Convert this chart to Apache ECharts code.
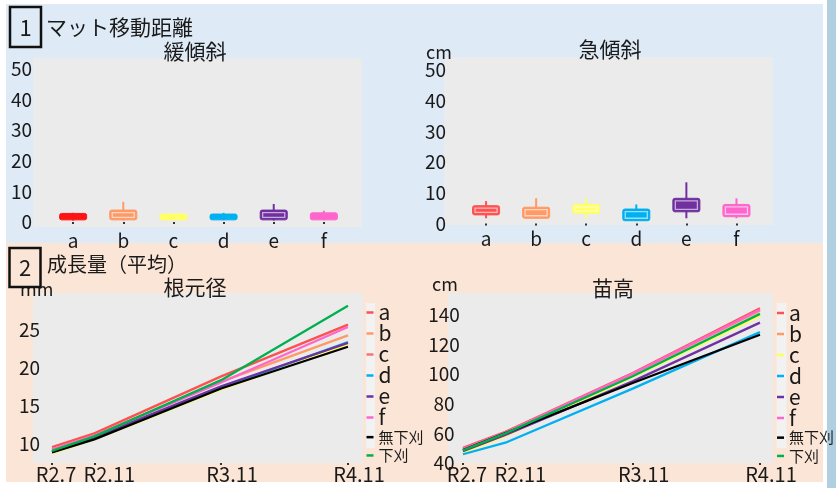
<!DOCTYPE html>
<html><head><meta charset="utf-8">
<script src="https://cdn.jsdelivr.net/npm/echarts@6/dist/echarts.min.js"></script>
<style>html,body{margin:0;padding:0;background:#fff}#c{width:836px;height:488px}</style>
</head><body><div id="c"></div>
<script>
// ---- data ----
const plots = ['a', 'b', 'c', 'd', 'e', 'f'];
const groups = ['a', 'b', 'c', 'd', 'e', 'f', '無下刈', '下刈'];
// mat movement distance (cm), per plot: [low, q1, q3, high]
const gentleBoxes = [
  [0.5, 0.7, 2.8, 3.0],
  [0.5, 0.7, 3.9, 6.6],
  [0.6, 0.7, 2.6, 2.6],
  [0.6, 0.7, 2.6, 3.0],
  [0.5, 0.7, 3.9, 5.9],
  [0.6, 0.7, 3.0, 3.7]
];
const steepBoxes = [
  [1.7, 2.8, 5.8, 7.3],
  [1.7, 1.7, 5.3, 8.2],
  [1.7, 3.3, 6.2, 8.2],
  [0.9, 0.9, 4.7, 6.2],
  [1.7, 3.8, 8.2, 13.4],
  [1.7, 2.2, 6.2, 8.2]
];
const boxTicks = [0, 10, 20, 30, 40, 50];
// survey dates as months since R2.7
const surveyMonths = [0, 4, 16, 28];
const surveyLabels = ['R2.7', 'R2.11', 'R3.11', 'R4.11'];
// mean root collar diameter (mm), rows follow `groups`
const diameterMm = [
  [9.6, 11.4, 18.9, 25.7],
  [9.3, 11.1, 18.2, 24.3],
  [8.8, 10.6, 17.2, 23.0],
  [9.0, 10.9, 17.4, 23.4],
  [9.0, 10.9, 17.6, 23.3],
  [9.3, 11.1, 18.1, 25.4],
  [8.9, 10.6, 17.3, 22.8],
  [9.1, 11.0, 18.4, 28.2]
];
const diameterTicks = [10, 15, 20, 25];
// mean seedling height (cm), rows follow `groups`
const heightCm = [
  [50.3, 61.1, 100.7, 144.4],
  [49.0, 60.0, 100.0, 142.8],
  [47.0, 58.2, 98.0, 139.2],
  [45.9, 53.7, 90.2, 128.3],
  [48.0, 59.0, 95.1, 134.7],
  [49.5, 60.5, 100.3, 143.5],
  [48.7, 60.2, 94.0, 126.5],
  [48.5, 60.0, 98.5, 140.6]
];
const heightTicks = [40, 60, 80, 100, 120, 140];

// ---- styling ----
const FONT = '"Noto Sans CJK JP", "Noto Sans", sans-serif';
const INK = '#1a1a1a';
const gentleColors = ['#ff1414', '#ff9966', '#ffff66', '#00b0f0', '#7030a0', '#ff66cc'];
const steepColors = ['#ff5252', '#ff9966', '#ffff66', '#00b0f0', '#7030a0', '#ff66cc'];
const lineColors = ['#ff5050', '#ff9966', '#ffff55', '#00b0f0', '#7030a0', '#ff66cc', '#000000', '#00b050'];
const diamKeyColors = ['#ff5050', '#ff9966', '#ff7070', '#00b0f0', '#7030a0', '#ff66cc', '#000000', '#00b050'];
const heightKeyColors = ['#ff5050', '#ff9966', '#ffff55', '#00b0f0', '#7030a0', '#ff66cc', '#000000', '#00b050'];
const BOX_W = 0.54;
// left padding of each date label (shifts the text right of its tick)
const dateLabelPad = [8, 30, 22, 22];

const chart = echarts.init(document.getElementById('c'), null, { renderer: 'canvas' });

function boxSeries(idx, boxes, colors) {
  return {
    type: 'custom', xAxisIndex: idx, yAxisIndex: idx, silent: true, z: 5,
    data: boxes.map((b, i) => [i + 1].concat(b)),
    encode: { x: 0, y: [1, 2, 3, 4] },
    renderItem: (params, api) => {
      const x = api.value(0);
      const lo = api.coord([x, api.value(1)]);
      const q1 = api.coord([x, api.value(2)]);
      const q3 = api.coord([x, api.value(3)]);
      const hi = api.coord([x, api.value(4)]);
      const half = api.size([BOX_W, 0])[0] / 2;
      const col = colors[params.dataIndex];
      const h = Math.max(q1[1] - q3[1], 4);
      const kids = [
        { type: 'line', shape: { x1: lo[0], y1: lo[1], x2: hi[0], y2: hi[1] }, style: { stroke: col, lineWidth: 2 } },
        { type: 'rect', shape: { x: q1[0] - half, y: q1[1] - h, width: half * 2, height: h, r: 2 },
          style: { fill: col, stroke: col, lineWidth: 1 } }
      ];
      if (h > 8) {
        kids.push({ type: 'rect', shape: { x: q1[0] - half + 2.5, y: q1[1] - h + 2.5, width: half * 2 - 5, height: h - 5 },
          style: { fill: 'none', stroke: 'rgba(255,255,255,0.6)', lineWidth: 1.3 } });
      }
      return { type: 'group', children: kids };
    }
  };
}

function lineSeries(idx, rows) {
  return rows.map((row, i) => ({
    type: 'line', name: groups[i], xAxisIndex: idx, yAxisIndex: idx, silent: true,
    symbol: 'none', z: 5,
    data: surveyMonths.map((m, j) => [m, row[j]]),
    lineStyle: { width: 2.3, color: lineColors[i] },
    itemStyle: { color: lineColors[i] }
  }));
}

const gridBase = { show: true, backgroundColor: '#ebebeb', borderWidth: 0, containLabel: false };
const boxX = (gridIndex, min, max) => ({
  type: 'value', gridIndex, min, max,
  axisLine: { show: false }, splitLine: { show: false },
  axisTick: { show: true, length: 2, customValues: [1, 2, 3, 4, 5, 6], lineStyle: { color: '#333', width: 2 } },
  axisLabel: { customValues: [1, 2, 3, 4, 5, 6], formatter: v => plots[Math.round(v) - 1] || '',
    fontFamily: FONT, fontSize: 19, color: INK, margin: 4 }
});
const boxY = (gridIndex, min, max, margin) => ({
  type: 'value', gridIndex, min, max,
  axisLine: { show: false }, splitLine: { show: false }, axisTick: { show: false },
  axisLabel: { customValues: boxTicks, fontFamily: FONT, fontSize: 19, color: INK, margin }
});
const dateRich = {};
dateLabelPad.forEach((p, i) => {
  dateRich['d' + i] = { fontFamily: FONT, fontSize: 20, color: INK, padding: [0, 0, 0, p] };
});
const timeX = (gridIndex, min, max) => ({
  type: 'value', gridIndex, min, max,
  axisLine: { show: false }, splitLine: { show: false },
  axisTick: { show: true, length: 2, customValues: surveyMonths, lineStyle: { color: '#333', width: 2 } },
  axisLabel: {
    customValues: surveyMonths, fontFamily: FONT, fontSize: 20, color: INK, margin: 1,
    formatter: v => {
      const i = surveyMonths.indexOf(Math.round(v));
      return '{d' + i + '|' + surveyLabels[i] + '}';
    },
    rich: dateRich
  }
});
const lineY = (gridIndex, min, max, ticks, margin, align) => ({
  type: 'value', gridIndex, min, max,
  axisLine: { show: false }, splitLine: { show: false }, axisTick: { show: false },
  axisLabel: { customValues: ticks, fontFamily: FONT, fontSize: 19, color: INK, margin, align }
});

const keyRich = {
  l: { fontFamily: FONT, fontSize: 21, lineHeight: 18.3, color: INK },
  k: { fontFamily: FONT, fontSize: 15, lineHeight: 18.3, color: INK }
};
const legend = (left, top, colors) => ({
  orient: 'vertical', left, top, icon: 'rect', itemWidth: 7, itemHeight: 2.5, itemGap: 0,
  selectedMode: false, padding: 0,
  itemStyle: { borderWidth: 0 },
  data: groups.map((g, i) => ({ name: g, itemStyle: { color: colors[i], borderWidth: 0 } })),
  formatter: n => (n.length > 1 ? '{k|' + n + '}' : '{l|' + n + '}'),
  textStyle: { rich: keyRich, lineHeight: 18.3 }
});

const txt = (x, y, text, size, align) => ({
  type: 'text', x, y, z: 50,
  style: { text, fontFamily: FONT, fontSize: size, fill: INK, align: align || 'left', verticalAlign: 'middle' }
});

chart.setOption({
  animation: false,
  backgroundColor: '#ffffff',
  grid: [
    Object.assign({ left: 33, top: 58, width: 329, height: 169 }, gridBase),
    Object.assign({ left: 444, top: 57, width: 329, height: 168 }, gridBase),
    Object.assign({ left: 33, top: 293, width: 330, height: 170 }, gridBase),
    Object.assign({ left: 448, top: 293, width: 325, height: 170 }, gridBase)
  ],
  xAxis: [boxX(0, 0.2, 6.76), boxX(1, 0.16, 6.73), timeX(2, -1.8, 29.42), timeX(3, -1.41, 29.23)],
  yAxis: [
    boxY(0, -1.63, 53.6, 1), boxY(1, -0.49, 54.2, -2),
    lineY(2, 7.5, 29.87, diameterTicks, -7, 'right'),
    lineY(3, 40, 154.7, heightTicks, 4, 'center')
  ],
  legend: [legend(366.5, 302, diamKeyColors), legend(777, 302.5, heightKeyColors)],
  series: [boxSeries(0, gentleBoxes, gentleColors), boxSeries(1, steepBoxes, steepColors)]
    .concat(lineSeries(2, diameterMm), lineSeries(3, heightCm)),
  graphic: [
    { type: 'group', z: -10, silent: true, children: [
      { type: 'rect', shape: { x: 6, y: 4, width: 817, height: 239 }, style: { fill: '#deeaf6' }, z: -10 },
      { type: 'rect', shape: { x: 6, y: 243, width: 817, height: 239 }, style: { fill: '#fbe5d6' }, z: -10 },
      { type: 'rect', shape: { x: 827, y: 0, width: 9, height: 488 }, style: { fill: '#b0d0e2' }, z: -10 }
    ]},
    { type: 'rect', shape: { x: 366, y: 303, width: 9, height: 145 }, style: { fill: '#f2f2f2' }, z: 1 },
    { type: 'rect', shape: { x: 776.5, y: 303, width: 10, height: 145 }, style: { fill: '#f2f2f2' }, z: 1 },
    txt(46, 27, 'マット移動距離', 21),
    txt(195, 51, '緩傾斜', 21, 'center'),
    txt(610, 49, '急傾斜', 21, 'center'),
    txt(426, 52, 'cm', 18),
    txt(47, 264, '成長量（平均）', 20),
    txt(195, 287, '根元径', 21, 'center'),
    txt(613, 288, '苗高', 21, 'center'),
    txt(432, 284, 'cm', 18),
    txt(20, 289, 'mm', 18),
    { type: 'rect', z: 60, shape: { x: 10, y: 7, width: 31, height: 40 }, style: { fill: '#deeaf6', stroke: '#111', lineWidth: 2.5 } },
    { type: 'text', z: 61, x: 25.5, y: 28, style: { text: '1', fontFamily: FONT, fontSize: 22, fill: INK, align: 'center', verticalAlign: 'middle' } },
    { type: 'rect', z: 60, shape: { x: 9.5, y: 248, width: 31, height: 39 }, style: { fill: '#fbe5d6', stroke: '#111', lineWidth: 2.5 } },
    { type: 'text', z: 61, x: 25, y: 268, style: { text: '2', fontFamily: FONT, fontSize: 22, fill: INK, align: 'center', verticalAlign: 'middle' } }
  ]
});
</script>
</body></html>
